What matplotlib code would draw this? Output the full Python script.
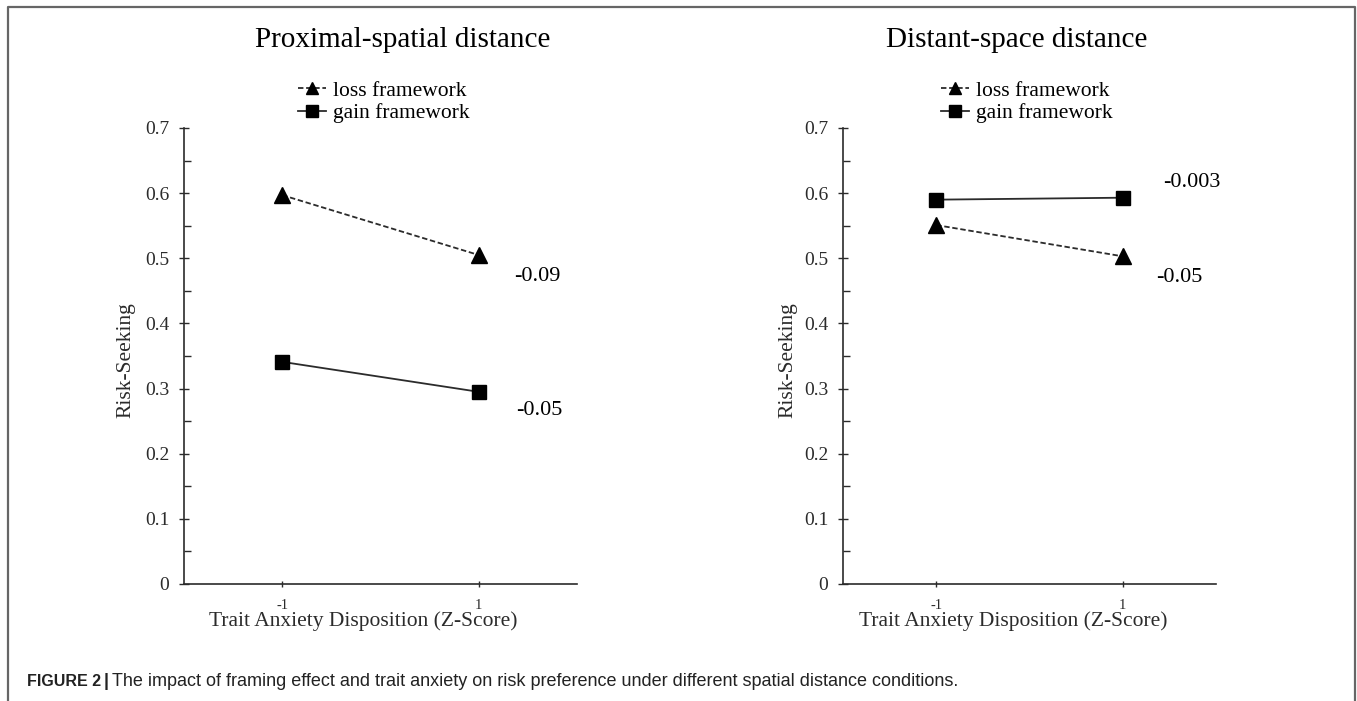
# Risk seeking vs trait anxiety, two spatial distance conditions

import matplotlib.pyplot as plt
from matplotlib.lines import Line2D
from matplotlib.ticker import MultipleLocator

plt.rcParams['font.family'] = ['Liberation Serif', 'DejaVu Serif']

# Data
anxiety = [-1, 1]
panels = ['Proximal-spatial distance', 'Distant-space distance']
loss_near = [0.597, 0.505]
gain_near = [0.341, 0.295]
loss_far = [0.551, 0.503]
gain_far = [0.590, 0.593]
slopes_near = ['-0.09', '-0.05']
slopes_far = ['-0.003', '-0.05']
yticks = [0, 0.1, 0.2, 0.3, 0.4, 0.5, 0.6, 0.7]
ytick_labels = ['0', '0.1', '0.2', '0.3', '0.4', '0.5', '0.6', '0.7']

W, H = 1357, 701
fig = plt.figure(figsize=(W / 100, H / 100), dpi=100)

def px(x, y):
    return x / W, 1 - y / H

dark = '#2b2b2b'

def panel(rect, loss, gain, title, title_x, leg_x, slopes, slope_pos, xlab_x):
    ax = fig.add_axes(rect)
    ax.plot(anxiety, loss, color=dark, linestyle=(0, (3, 1.5)), linewidth=1.3,
            marker='^', markersize=11, markerfacecolor='black',
            markeredgecolor='black', label='loss framework')
    ax.plot(anxiety, gain, color=dark, linestyle='-', linewidth=1.3,
            marker='s', markersize=10, markerfacecolor='black',
            markeredgecolor='black', label='gain framework')

    ax.set_xlim(-2, 2)
    ax.set_ylim(0, 0.7)
    ax.set_xticks(anxiety)
    ax.set_xticklabels(['-1', '1'], fontsize=10.5)
    ax.set_yticks(yticks)
    ax.set_yticklabels(ytick_labels, fontsize=14)
    ax.yaxis.set_minor_locator(MultipleLocator(0.05))
    ax.tick_params(axis='y', which='major', direction='inout', length=7,
                   width=1, colors=dark, pad=7)
    ax.tick_params(axis='y', which='minor', direction='in', length=5,
                   width=1, colors=dark)
    ax.tick_params(axis='x', which='major', direction='inout', length=5,
                   width=1, colors=dark, pad=8)
    for s in ['top', 'right']:
        ax.spines[s].set_visible(False)
    for s in ['left', 'bottom']:
        ax.spines[s].set_color(dark)
        ax.spines[s].set_linewidth(1.2)

    ax.set_ylabel('Risk-Seeking', fontsize=15.5, color=dark)
    ax.yaxis.set_label_coords(-0.123, 0.49)
    fig.text(*px(xlab_x, 621), 'Trait Anxiety Disposition (Z-Score)',
             fontsize=15.5, color=dark, ha='center', va='center')

    for txt, (sx, sy) in zip(slopes, slope_pos):
        ax.text(sx, sy, txt, fontsize=16, ha='center', va='center',
                color='black')

    fig.text(*px(title_x, 40), title, fontsize=21, ha='center',
             va='center', color='black')
    ax.legend(loc='center', bbox_to_anchor=px(leg_x, 102),
              bbox_transform=fig.transFigure, frameon=False, fontsize=15.5,
              handlelength=1.3, handletextpad=0.3, labelspacing=0.12,
              borderpad=0, markerscale=0.8)
    return ax

bot = 1 - 584 / H
hgt = (584 - 128) / H
panel([184 / W, bot, 393 / W, hgt], loss_near, gain_near, panels[0], 403,
      384, slopes_near, [(1.60, 0.472), (1.62, 0.266)], 363)
panel([843 / W, bot, 373 / W, hgt], loss_far, gain_far, panels[1], 1017,
      1027, slopes_far, [(1.74, 0.617), (1.61, 0.471)], 1013)

# frame around the figure
xs = [8 / W, 8 / W, 1355 / W, 1355 / W]
ys = [0, 1 - 6.5 / H, 1 - 6.5 / H, 0]
fig.add_artist(Line2D(xs, ys, color='#666666', linewidth=1.6,
                      transform=fig.transFigure))

# caption
cap_y = 681
fig.text(*px(27, cap_y), 'FIGURE 2', fontsize=11.5, fontweight='bold',
         family='Liberation Sans', va='center', color='#222222')
fig.text(*px(104, cap_y), '|', fontsize=13, fontweight='bold',
         family='Liberation Sans', va='center', color='#222222')
fig.text(*px(112, cap_y), 'The impact of framing effect and trait anxiety on '
         'risk preference under different spatial distance conditions.',
         fontsize=13, family='Liberation Sans', va='center', color='#222222')

plt.savefig('out.png', dpi=100)
